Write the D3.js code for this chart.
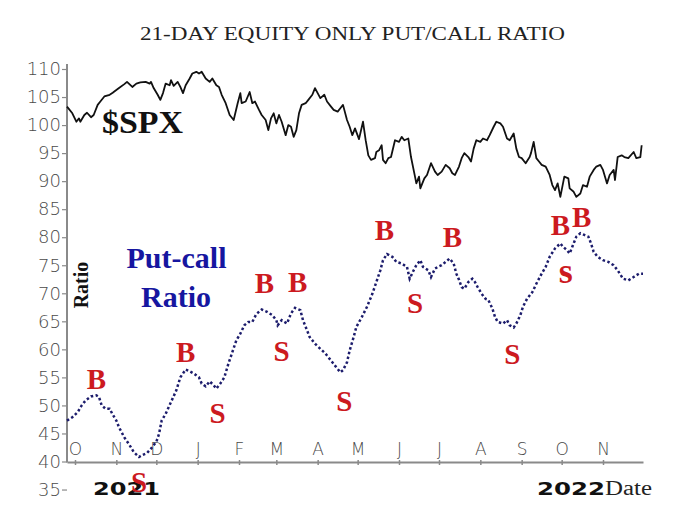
<!DOCTYPE html>
<html>
<head>
<meta charset="utf-8">
<script src="https://cdn.jsdelivr.net/npm/d3@7/dist/d3.min.js"></script>
<style>
  html, body { margin: 0; padding: 0; background: #fff; }
  svg { display: block; }
</style>
</head>
<body>
<svg id="chart" width="700" height="531"></svg>
<script>
// ---------------- DATA ----------------
const titleText = "21-DAY EQUITY ONLY PUT/CALL RATIO";
const startDate = "2021-09-25";
const endDate = "2022-12-01";
const monthLetters = ["J","F","M","A","M","J","J","A","S","O","N","D"];
const yTicks = [35,40,45,50,55,60,65,70,75,80,85,90,95,100,105,110];

// $SPX (scaled), day offsets from startDate
const spxDays = [0,4,7,9,10,13,15,18,20,23,25,28,32,34,35,39,43,45,49,52,55,59,62,63,65,68,70,72,74,77,78,80,83,85,87,89,92,94,97,99,101,104,107,109,112,114,116,119,122,125,128,130,131,134,137,139,141,144,146,149,151,153,155,157,159,161,164,166,168,170,172,174,176,179,181,184,186,188,190,193,195,198,200,203,205,207,210,212,214,216,219,222,224,226,228,231,232,234,236,237,239,241,243,246,249,251,253,256,258,261,262,264,265,268,270,273,276,278,281,284,287,289,291,294,296,298,301,303,305,307,310,312,315,317,320,322,325,327,330,332,335,337,339,341,344,347,348,350,352,354,356,359,362,364,366,368,370,373,376,377,380,382,385,387,390,392,395,397,400,402,405,407,410,411,413,416,418,421,425,427,430,431];
const spxValues = [103.3,102.1,100.6,101.2,100.6,101.8,102.2,101.4,101.8,103.6,104.2,105.1,105.4,105.7,105.9,106.6,107.3,107.7,106.8,107.4,107.6,107.7,107.4,107.7,106.6,105.4,104.5,105.7,107.4,107.1,108.0,107.0,107.7,106.8,105.7,107.1,108.3,109.2,109.5,109.2,109.5,108.3,107.7,108.3,107.1,106.8,105.4,103.9,101.8,100.9,103.9,105.7,103.9,104.2,105.9,103.9,104.2,102.7,101.8,100.9,99.1,101.2,102.1,100.3,101.8,100.6,98.2,100.0,99.7,97.9,99.1,102.1,103.6,103.9,104.5,105.4,106.6,105.7,104.8,105.4,104.2,103.3,102.7,102.4,103.0,103.6,100.9,99.7,98.2,99.4,97.5,100.6,97.3,94.6,93.8,94.1,95.2,95.5,96.4,93.8,93.2,94.1,94.3,97.3,97.0,97.9,97.3,97.6,94.3,90.8,89.6,90.8,88.7,90.5,91.1,93.2,91.7,91.1,91.7,92.9,92.3,91.4,91.1,92.6,94.1,95.0,94.3,93.5,95.8,97.3,97.0,97.6,97.3,98.2,99.7,100.6,100.3,99.7,97.6,97.3,98.5,95.8,94.3,94.1,93.2,94.3,95.0,97.0,94.1,93.5,92.9,92.6,91.1,89.3,88.4,89.6,87.2,90.8,90.5,88.7,88.1,87.2,87.8,89.3,89.0,90.8,92.0,92.6,92.9,92.0,89.6,91.1,92.0,90.2,94.3,94.6,94.3,94.1,95.2,94.1,94.3,96.4];

// 21-day equity-only put/call ratio, day offsets from startDate
const pcDays = [0,4,8,11,14,18,22,24,26,29,32,34,37,39,43,47,50,54,56,60,63,67,69,71,74,78,82,85,89,92,95,99,101,104,107,110,112,115,118,121,124,127,130,133,136,139,142,146,150,154,157,158,161,165,168,171,175,177,180,182,186,190,194,197,201,205,207,210,212,215,217,221,225,229,232,235,237,240,244,247,251,255,257,260,262,265,267,271,273,276,278,281,284,287,290,292,294,296,298,301,304,306,308,311,314,316,319,321,323,327,330,332,335,337,340,342,345,349,352,356,359,362,366,370,372,375,377,379,382,385,388,391,393,395,398,402,406,410,413,417,421,425,429,432];
const pcValues = [47.3,47.9,48.8,50.0,50.9,51.6,51.8,51.5,50.0,49.4,49.4,48.5,47.3,46.1,44.3,42.9,41.7,40.8,41.1,41.5,42.3,43.5,44.9,47.3,48.5,50.6,52.7,55.0,56.4,56.1,55.7,55.0,53.9,53.4,54.3,53.6,53.0,53.9,55.0,57.4,59.5,61.6,62.8,64.3,64.9,64.9,66.3,67.1,66.7,66.1,65.2,64.3,65.2,64.6,66.4,67.4,67.0,65.2,63.4,62.2,61.0,60.1,59.2,58.3,57.1,55.9,56.3,57.7,59.8,62.2,64.0,65.7,67.6,69.9,72.0,74.1,75.9,77.0,76.5,75.6,75.3,74.7,72.6,74.1,75.0,75.9,74.7,74.1,72.9,74.4,74.7,75.0,75.6,76.2,75.3,73.5,72.4,71.1,70.8,72.0,72.6,72.0,71.1,69.9,69.0,68.8,67.3,65.8,64.9,64.6,65.2,64.3,63.9,64.6,66.1,67.6,69.0,70.2,71.7,73.5,74.7,76.5,78.0,78.9,78.3,77.7,77.1,78.3,80.1,80.7,80.4,80.1,78.9,77.4,76.5,75.9,75.6,75.0,74.1,72.6,72.3,72.9,73.5,73.5];

// Buy / Sell signal annotations: letter, day offset, value level of text baseline
const sigText  = ["B","S","B","S","B","S","B","S","B","S","B","S","B","B","s"];
const sigDay   = [22,54,89,113,148,161,173,208,238,261,289,334,370,386,374];
const sigLevel = [53.0,34.5,57.7,46.8,70.0,58.0,70.2,49.0,79.5,66.4,78.3,57.3,80.4,81.8,71.8];

// ---------------- CHART ----------------
const svg = d3.select("#chart");
const parse = d3.timeParse("%Y-%m-%d");
const d0 = parse(startDate), d1 = parse(endDate);
const dayToDate = d => d3.timeDay.offset(d0, d);

const x = d3.scaleTime().domain([d0, d1]).range([67, 643]);
const y = d3.scaleLinear().domain([40, 110]).range([461.5, 69]);

const axisColor = "#8a8a8a";
const labelColor = "#4a4a4a";

// Title
svg.append("text")
  .attr("x", 352.5).attr("y", 40)
  .attr("text-anchor", "middle")
  .attr("font-family", "Liberation Serif, serif")
  .attr("font-size", 19)
  .attr("fill", "#222")
  .attr("textLength", 425).attr("lengthAdjust", "spacingAndGlyphs")
  .text(titleText);

// Y axis
const yAxis = d3.axisLeft(y).tickValues(yTicks).tickSize(5).tickPadding(1);
const gy = svg.append("g").attr("transform", "translate(67,0)").call(yAxis);
gy.select(".domain").remove();
gy.selectAll(".tick line").attr("stroke", axisColor).attr("stroke-width", 1.2);
gy.selectAll(".tick text")
  .attr("font-family", "DejaVu Sans, sans-serif")
  .attr("font-weight", 200)
  .attr("font-size", 18)
  .attr("fill", labelColor);
svg.append("line")
  .attr("x1", 67).attr("x2", 67).attr("y1", 64).attr("y2", 462.5)
  .attr("stroke", axisColor).attr("stroke-width", 2);

// X axis (labels above the line), months October..November
const monthTicks = d3.timeMonth.range(d3.timeMonth.ceil(d0), d1);
const xAxis = d3.axisTop(x)
  .tickValues(monthTicks)
  .tickFormat(d => monthLetters[d.getMonth()])
  .tickSizeInner(-3).tickSizeOuter(0).tickPadding(7);
const gx = svg.append("g").attr("transform", "translate(0,462)").call(xAxis);
gx.select(".domain").attr("stroke", axisColor).attr("stroke-width", 2.2);
gx.selectAll(".tick line").attr("stroke", axisColor).attr("stroke-width", 1.5)
  .attr("y1", -2).attr("y2", 3);
gx.selectAll(".tick text")
  .attr("font-family", "DejaVu Sans, sans-serif")
  .attr("font-weight", 200)
  .attr("font-size", 17)
  .attr("fill", labelColor);

// Year labels
svg.append("text").attr("x", 93).attr("y", 495)
  .attr("font-family", "DejaVu Sans, sans-serif").attr("font-weight", "bold")
  .attr("font-size", 18).attr("fill", "#111")
  .attr("textLength", 67).attr("lengthAdjust", "spacingAndGlyphs")
  .text("2021");
svg.append("text").attr("x", 537).attr("y", 495)
  .attr("font-family", "DejaVu Sans, sans-serif").attr("font-weight", "bold")
  .attr("font-size", 18).attr("fill", "#111")
  .attr("textLength", 68).attr("lengthAdjust", "spacingAndGlyphs")
  .text("2022");
svg.append("text").attr("x", 605).attr("y", 495)
  .attr("font-family", "Liberation Serif, serif")
  .attr("font-size", 20).attr("fill", "#222")
  .attr("textLength", 47).attr("lengthAdjust", "spacingAndGlyphs")
  .text("Date");

// Rotated "Ratio"
svg.append("text")
  .attr("transform", "translate(88,285) rotate(-90)")
  .attr("text-anchor", "middle")
  .attr("font-family", "Liberation Serif, serif").attr("font-weight", "bold")
  .attr("font-size", 20).attr("fill", "#111")
  .text("Ratio");

// SPX line
const spxData = spxDays.map((d, i) => ({ date: dayToDate(d), v: spxValues[i] }));
svg.append("path")
  .datum(spxData)
  .attr("fill", "none").attr("stroke", "#111").attr("stroke-width", 1.8)
  .attr("stroke-linejoin", "round")
  .attr("d", d3.line().x(d => x(d.date)).y(d => y(d.v)));

// Put/call line (dotted)
const pcData = pcDays.map((d, i) => ({ date: dayToDate(d), v: pcValues[i] }));
svg.append("path")
  .datum(pcData)
  .attr("fill", "none").attr("stroke", "#1c1c6c").attr("stroke-width", 2.5)
  .attr("stroke-dasharray", "2.5,2.4")
  .attr("d", d3.line().x(d => x(d.date)).y(d => y(d.v)));

// Series labels
svg.append("text").attr("x", 102).attr("y", 133)
  .attr("font-family", "Liberation Serif, serif").attr("font-weight", "bold")
  .attr("font-size", 31).attr("fill", "#111")
  .attr("textLength", 81).attr("lengthAdjust", "spacingAndGlyphs")
  .text("$SPX");
svg.append("text").attr("x", 176.5).attr("y", 268)
  .attr("text-anchor", "middle")
  .attr("font-family", "Liberation Serif, serif").attr("font-weight", "bold")
  .attr("font-size", 30).attr("fill", "#1616a0")
  .text("Put-call");
svg.append("text").attr("x", 176).attr("y", 306.5)
  .attr("text-anchor", "middle")
  .attr("font-family", "Liberation Serif, serif").attr("font-weight", "bold")
  .attr("font-size", 30).attr("fill", "#1616a0")
  .text("Ratio");

// Signals
svg.append("g").selectAll("text")
  .data(sigText.map((t, i) => ({ t, date: dayToDate(sigDay[i]), v: sigLevel[i] })))
  .join("text")
  .attr("x", d => x(d.date)).attr("y", d => y(d.v))
  .attr("text-anchor", "middle")
  .attr("font-family", "Liberation Serif, serif").attr("font-weight", "bold")
  .attr("font-size", d => d.t === "s" ? 36 : 29)
  .attr("fill", "#cc1a1f")
  .text(d => d.t);
</script>
</body>
</html>
